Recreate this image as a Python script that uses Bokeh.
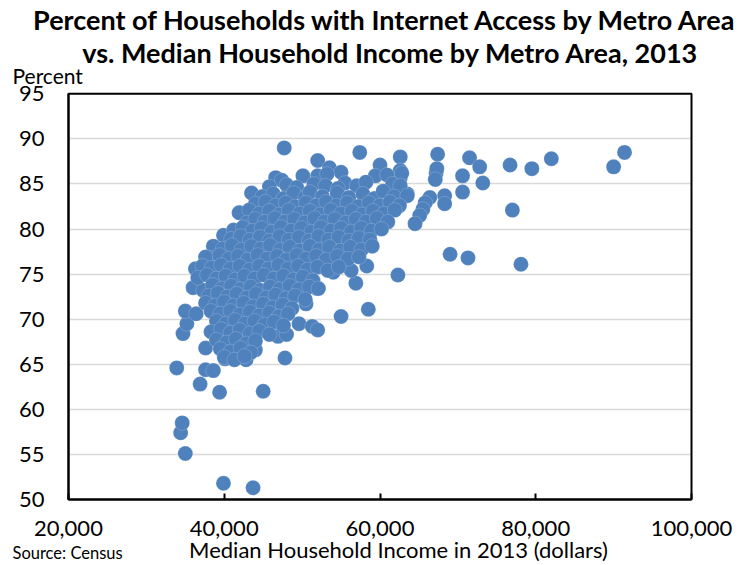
from bokeh.plotting import figure
from bokeh.models import (Range1d, NumeralTickFormatter, FixedTicker, ColumnDataSource,
                          Label, BoxAnnotation)
from bokeh.embed import file_html
from bokeh.resources import INLINE

# ---- data ----
title_1 = "Percent of Households with Internet Access by Metro Area"
title_2 = "vs. Median Household Income by Metro Area, 2013"
x_title = "Median Household Income in 2013 (dollars)"
y_title = "Percent"
source_note = "Source: Census"
x_ticks = [20000, 40000, 60000, 80000, 100000]
y_ticks = [50, 55, 60, 65, 70, 75, 80, 85, 90, 95]
y_grid = [55, 60, 65, 70, 75, 80, 85, 90]

# outlying metros (low income / low access)
low_income = [39900, 43700, 35000, 34400, 34600, 33900, 36900, 39400, 45000, 37600,
              38600, 37600, 34700, 35200, 35000, 36400, 47800, 46900, 48000, 49600,
              51300, 52000, 55000, 58500, 50500, 42800, 40100, 44000]
low_pct = [51.8, 51.3, 55.1, 57.4, 58.5, 64.6, 62.8, 61.9, 62.0, 64.4,
           64.3, 66.8, 68.4, 69.5, 70.9, 70.6, 65.7, 68.1, 68.3, 69.5,
           69.2, 68.8, 70.3, 71.1, 71.7, 65.5, 65.6, 66.6]

# higher income metros
high_income = [57400, 62600, 67400, 71500, 72800, 76700, 79500, 82000, 90000, 91400,
               70600, 73200, 70600, 67200, 67300, 67100, 68300, 68300, 66400, 65800,
               65500, 65100, 64500, 63500, 62600, 62600, 77000, 69000, 71300, 78100,
               62300, 58300, 56900, 56300, 54000, 51900, 47700, 52000, 60000, 53500,
               55000, 43500, 42000, 43000, 39900, 38600, 38200, 36300, 36000, 37300]
high_pct = [88.5, 88.0, 88.3, 87.9, 86.9, 87.1, 86.7, 87.8, 86.9, 88.5,
            85.9, 85.1, 84.1, 86.2, 86.7, 85.5, 83.7, 82.8, 83.5, 82.9,
            82.2, 81.5, 80.6, 83.9, 85.7, 86.5, 82.1, 77.2, 76.8, 76.1,
            74.9, 75.9, 74.0, 75.4, 75.2, 73.4, 89.0, 87.6, 87.1, 86.8,
            86.3, 84.0, 81.8, 80.7, 79.3, 78.1, 76.8, 75.6, 73.5, 73.2]

# dense central cluster
core_income = [
    46600, 47400, 50100, 52000, 53200, 55500, 59400, 60900, 62800,
    45800, 48000, 49300, 51500, 53000, 54600, 57000, 58200, 61600, 62600,
    44900, 46300, 47600, 48900, 50400, 51000, 52600, 54500, 56000, 57800, 59300, 60400, 61800, 63500,
    44000, 45300, 46600, 47900, 49100, 50500, 51800, 53100, 54400, 55800, 57200, 58600, 60000, 61300, 62500,
    41900, 43200, 44500, 45800, 47100, 48300, 49700, 51000, 52300, 53700, 55000, 56400, 57700, 59100, 60500, 61900,
    42900, 44000, 45200, 46500, 47800, 49000, 50300, 51600, 52900, 54200, 55600, 56900, 58200, 59600, 61000,
    41200, 42400, 43600, 44800, 46100, 47300, 48600, 49900, 51200, 52400, 53700, 55000, 56300, 57600, 58900, 60200,
    40900, 42100, 43300, 44600, 45800, 47100, 48300, 49600, 50900, 52100, 53400, 54700, 56000, 57300, 58700,
    39800, 41000, 42200, 43500, 44700, 45900, 47200, 48400, 49700, 51000, 52200, 53500, 54900, 56200, 57600, 59000,
    37600, 39400, 40600, 41800, 43000, 44300, 45500, 46800, 48000, 49300, 50500, 51800, 53100, 54500, 55900, 57300,
    37200, 38400, 39600, 40800, 42000, 43300, 44500, 45700, 47000, 48200, 49500, 50700, 52000, 53300, 54700,
    36600, 37800, 39000, 40200, 41400, 42600, 43900, 45100, 46400, 47600, 48900, 50100, 51400,
    38500, 39700, 40900, 42100, 43400, 44600, 45900, 47100, 48400, 49600, 50900, 52100,
    38000, 39200, 40400, 41600, 42900, 44100, 45400, 46600, 47900, 49100, 50400,
    37600, 38800, 40000, 41200, 42500, 43700, 45000, 46200, 47500, 48700,
    38300, 39500, 40800, 42000, 43300, 44500, 45800, 47000, 48200,
    39000, 40200, 41400, 42700, 43900, 45200, 46400, 47600,
    38300, 39600, 40800, 42000, 43300, 44500, 45800,
    39000, 40300, 41500, 42800, 44000,
    39500, 40800, 42100, 43400,
    40000, 41300, 42600,
]
core_pct = [
    85.7, 85.4, 85.9, 85.9, 86.1, 85.1, 85.9, 86.0, 86.2,
    84.7, 84.9, 84.6, 85.0, 84.8, 84.5, 84.8, 85.2, 85.0, 84.8,
    83.6, 83.9, 83.4, 84.0, 83.5, 84.1, 83.6, 84.0, 83.5, 83.9, 83.4, 84.2, 83.6, 83.7,
    82.8, 83.0, 82.6, 82.9, 82.5, 82.9, 82.6, 83.0, 82.6, 82.9, 82.5, 82.9, 82.6, 83.0, 82.6,
    81.8, 82.1, 81.7, 82.0, 81.6, 82.1, 81.7, 82.0, 81.6, 82.1, 81.7, 82.0, 81.6, 82.0, 81.7, 82.1,
    80.7, 81.1, 80.8, 81.2, 80.8, 81.1, 80.7, 81.2, 80.8, 81.1, 80.7, 81.1, 80.8, 81.2, 80.8,
    79.9, 80.2, 79.8, 80.1, 79.7, 80.2, 79.8, 80.1, 79.7, 80.2, 79.8, 80.1, 79.7, 80.1, 79.8, 80.0,
    78.9, 79.2, 78.8, 79.1, 78.7, 79.2, 78.8, 79.1, 78.7, 79.2, 78.8, 79.1, 78.7, 79.0, 78.8,
    77.8, 78.2, 77.7, 78.1, 77.8, 78.2, 77.7, 78.0, 77.6, 78.1, 77.7, 78.0, 77.6, 78.0, 77.7, 78.1,
    76.9, 77.1, 76.7, 77.0, 76.6, 77.1, 76.7, 77.0, 76.6, 77.1, 76.7, 77.0, 76.6, 77.0, 76.7, 76.9,
    75.9, 75.7, 76.0, 75.6, 75.9, 75.5, 75.9, 75.6, 76.0, 75.6, 75.9, 75.5, 75.8, 75.4, 75.8,
    74.6, 74.9, 74.5, 74.8, 74.4, 74.8, 74.5, 74.9, 74.5, 74.8, 74.4, 74.7, 74.3,
    73.8, 73.4, 73.7, 73.3, 73.6, 73.2, 73.6, 73.3, 73.7, 73.3, 73.6, 73.4,
    72.6, 72.9, 72.5, 72.8, 72.4, 72.8, 72.4, 72.7, 72.3, 72.6, 72.2,
    71.8, 71.5, 71.9, 71.5, 71.8, 71.4, 71.7, 71.3, 71.6, 71.2,
    70.9, 70.6, 70.9, 70.5, 70.8, 70.4, 70.7, 70.3, 70.6,
    69.8, 69.5, 69.9, 69.5, 69.8, 69.4, 69.7, 69.3,
    68.6, 68.9, 68.5, 68.8, 68.4, 68.7, 68.3,
    67.7, 67.4, 67.8, 67.3, 67.6,
    66.7, 66.4, 66.8, 66.3,
    65.8, 65.5, 65.9,
]

income = low_income + high_income + core_income
pct = low_pct + high_pct + core_pct

# ---- figure ----
FONT = "Lato"
BLUE = "#4F81BD"

# plotting area fills the canvas; the 20k-100k / 50-95 box sits inside it
X0, X1 = 20000, 100000
Y0, Y1 = 50, 95
p = figure(width=745, height=565, output_backend="svg", toolbar_location=None,
           x_range=Range1d(11268, 106934), y_range=Range1d(42.68, 105.35),
           min_border_left=0, min_border_right=0, min_border_top=0, min_border_bottom=0)
p.background_fill_color = "white"
p.border_fill_color = "white"
p.outline_line_color = None

# horizontal grid lines inside the box
if hasattr(p.ygrid[0], "cross_bounds"):
    p.ygrid.ticker = FixedTicker(ticks=y_grid)
    p.ygrid.cross_bounds = (X0, X1)
    p.ygrid.grid_line_color = "#D9D9D9"
    p.ygrid.grid_line_width = 1.5
else:
    p.ygrid.visible = False
    p.segment(x0=X0, x1=X1, y0=y_grid, y1=y_grid, line_color="#D9D9D9", line_width=1.5)
p.xgrid.visible = False

src = ColumnDataSource(dict(income=income, pct=pct))
p.scatter("income", "pct", source=src, size=15, fill_color=BLUE,
          line_color="white", line_alpha=0.3, line_width=0.6)

p.add_layout(BoxAnnotation(left=X0, right=X1, bottom=Y0, top=Y1, fill_color=None,
                           line_color="black", line_alpha=1.0, line_width=2))

p.xaxis.fixed_location = Y0
p.xaxis.bounds = (X0, X1)
p.xaxis.ticker = FixedTicker(ticks=x_ticks)
p.xaxis.formatter = NumeralTickFormatter(format="0,0")
p.xaxis.major_tick_in = 6
p.xaxis.major_tick_out = 0
p.xaxis.minor_tick_line_color = None
p.xaxis.axis_line_width = 2
p.xaxis.major_tick_line_width = 2
p.xaxis.major_label_standoff = 21

p.yaxis.fixed_location = X0
p.yaxis.bounds = (Y0, Y1)
p.yaxis.ticker = FixedTicker(ticks=y_ticks)
p.yaxis.major_tick_in = 0
p.yaxis.major_tick_out = 0
p.yaxis.minor_tick_line_color = None
p.yaxis.axis_line_width = 2
p.yaxis.major_label_standoff = 24

for ax in (p.xaxis, p.yaxis):
    ax.major_label_text_font = FONT
    ax.major_label_text_font_size = "22px"
    ax.major_label_text_color = "black"
    ax.axis_line_color = "black"
    ax.major_tick_line_color = "black"

def add_label(x, y, txt, size, align="left", bold=False):
    p.add_layout(Label(x=x, y=y, text=txt, text_font=FONT, text_font_size=size,
                       text_align=align, text_baseline="middle", text_color="black",
                       text_font_style="bold" if bold else "normal"))

add_label(60706, 103.24, title_1, "27px", "center", True)
add_label(61348, 99.53, title_2, "27px", "center", True)
add_label(12809, 97.03, y_title, "21px")
add_label(12809, 44.12, source_note, "16.5px")
add_label(62375, 44.46, x_title, "22px", "center")

open("out.html", "w").write(file_html(p, INLINE))
